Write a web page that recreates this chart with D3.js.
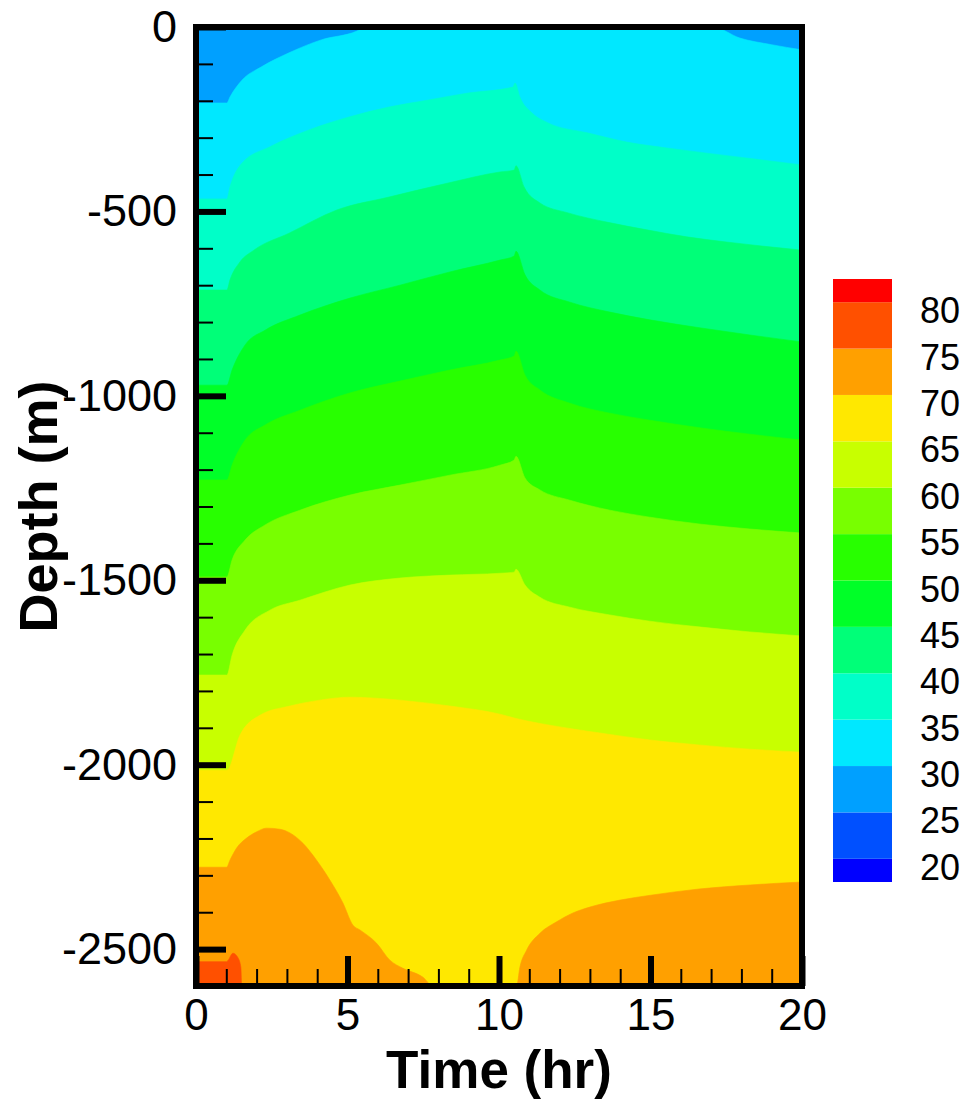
<!DOCTYPE html>
<html><head><meta charset="utf-8">
<script src="https://cdn.jsdelivr.net/npm/d3@7"></script>
<style>body{margin:0;background:#fff}</style>
</head><body>
<svg id="chart" width="970" height="1103"></svg>
<script>
// ---- data (time in hr, depth in m) ----
const legendLevels = [20,25,30,35,40,45,50,55,60,65,70,75,80];
const bandColors = ["#0000FF","#0050FF","#00A0FF","#00E8FF","#00FFC8","#00FF78","#00FF28",
                    "#28FF00","#78FF00","#C8FF00","#FFE800","#FFA000","#FF5000","#FF0000"];
const xTicks = [0,5,10,15,20];
const yTicks = [0,-500,-1000,-1500,-2000,-2500];
const xMinorTicks = d3.range(0,21,1);
const yMinorTicks = d3.range(0,-2601,-100);

// isotherm depth vs time; region below each isotherm has T >= level
const iso25 = [[0,0],[20,0]];
const iso30 = [[0,-206],[1.02,-206],[1.12,-190],[1.52,-144],[2.16,-108],[3.07,-70],[4.13,-35],[5.31,-11],[5.58,0],[17.05,0],[17.95,-30],[19,-48],[20,-62]];
const iso35 = [[0,-466],[1.02,-466],[1.12,-434],[1.52,-369],[2.43,-325],[3.73,-279],[5.05,-244],[6.37,-217],[7.67,-198],[8.98,-179],[10.46,-163],[10.53,-152],[10.69,-190],[11.09,-233],[11.62,-260],[12.92,-287],[14.22,-312],[15.54,-328],[16.86,-342],[18.15,-355],[20,-374]];
const iso40 = [[0,-713],[1.02,-713],[1.12,-686],[1.45,-637],[1.91,-605],[3.07,-559],[4.65,-496],[6.37,-461],[8.32,-423],[10.03,-393],[10.5,-388],[10.56,-376],[10.83,-434],[11.35,-477],[12.28,-504],[13.56,-529],[14.88,-550],[16.2,-569],[17.51,-583],[20,-605]];
const iso45 = [[0,-971],[1.02,-971],[1.19,-930],[1.62,-862],[2.28,-822],[3.43,-781],[5.08,-735],[6.73,-700],[8.38,-664],[10.03,-632],[10.5,-621],[10.56,-608],[10.86,-672],[11.35,-713],[12.34,-746],[13.66,-773],[14.98,-794],[16.67,-816],[18.28,-835],[20,-854]];
const iso50 = [[0,-1228],[1.02,-1228],[1.19,-1188],[1.62,-1120],[2.28,-1079],[3.43,-1039],[5.08,-992],[6.73,-960],[8.38,-930],[10.03,-903],[10.5,-892],[10.56,-879],[10.86,-944],[11.35,-984],[12.34,-1020],[13.66,-1047],[14.98,-1066],[16.67,-1087],[18.28,-1104],[20,-1120]];
const iso55 = [[0,-1491],[1.02,-1491],[1.19,-1445],[1.62,-1391],[2.28,-1350],[3.43,-1310],[5.08,-1269],[6.73,-1242],[8.38,-1215],[10.03,-1188],[10.5,-1174],[10.56,-1164],[10.86,-1223],[11.35,-1255],[12.34,-1283],[13.66,-1310],[14.98,-1329],[16.67,-1348],[18.28,-1361],[20,-1372]];
const iso60 = [[0,-1757],[1.02,-1757],[1.19,-1703],[1.62,-1635],[2.44,-1581],[3.43,-1554],[5.08,-1513],[6.73,-1494],[8.38,-1486],[10.03,-1481],[10.5,-1478],[10.56,-1470],[10.86,-1513],[11.35,-1546],[12.34,-1573],[13.66,-1594],[14.98,-1611],[16.67,-1627],[18.28,-1640],[20,-1651]];
const iso65 = [[0,-2015],[1.02,-2015],[1.45,-1920],[2.11,-1866],[3.1,-1841],[4.09,-1825],[5.08,-1817],[6.73,-1825],[8.38,-1841],[10.03,-1863],[10.53,-1874],[11.68,-1893],[13.33,-1914],[14.98,-1933],[16.67,-1947],[18.28,-1958],[20,-1966]];
const iso70 = [[0,-2278],[1.01,-2278],[1.12,-2259],[1.34,-2226],[1.67,-2199],[2.0,-2182],[2.33,-2172],[2.77,-2175],[3.1,-2185],[3.53,-2213],[3.98,-2259],[4.42,-2313],[4.85,-2375],[5.18,-2435],[5.41,-2448],[5.96,-2484],[6.4,-2530],[6.83,-2552],[7.49,-2576],[7.82,-2600],[10.58,-2600],[10.69,-2549],[10.91,-2503],[11.35,-2457],[11.9,-2426],[12.44,-2402],[13.0,-2386],[14.0,-2367],[15.0,-2354],[16.6,-2337],[18.3,-2326],[20,-2318]];
const iso75 = [[0,-2534],[1.01,-2534],[1.06,-2530],[1.22,-2511],[1.39,-2524],[1.48,-2549],[1.51,-2600],[20,-2600]];

const isoLevels = [25,30,35,40,45,50,55,60,65,70,75];
const isoLines = [iso25,iso30,iso35,iso40,iso45,iso50,iso55,iso60,iso65,iso70,iso75];

// ---- drawing ----
const svg = d3.select("#chart");
const x = d3.scaleLinear().domain([0,20]).range([196,802]);
const y = d3.scaleLinear().domain([0,-2600]).range([27,986]);

svg.append("defs").append("clipPath").attr("id","plotclip")
  .append("rect").attr("x",x(0)).attr("y",y(0)).attr("width",x(20)-x(0)).attr("height",y(-2600)-y(0));

const g = svg.append("g").attr("clip-path","url(#plotclip)");
const area = d3.area()
  .x(d => x(d[0]))
  .y0(y(-2600))
  .y1(d => y(d[1]))
  .curve(d3.curveMonotoneX);

isoLevels.forEach((L,i) => {
  const ci = (L-20)/5 + 1;
  g.append("path").datum(isoLines[i])
    .attr("d", area)
    .attr("fill", bandColors[ci])
    .attr("stroke", bandColors[ci]).attr("stroke-width",0.6);
});

// axes
const font = "'Liberation Sans', Arial, Helvetica, sans-serif";
const fmt = d => String(d);
const yMinor = svg.append("g").attr("transform",`translate(${x(0)},0)`)
  .call(d3.axisLeft(y).tickValues(yMinorTicks).tickSize(-17).tickFormat(""));
yMinor.selectAll("line").attr("stroke","#000").attr("stroke-width",2);
const yMajor = svg.append("g").attr("transform",`translate(${x(0)},0)`)
  .call(d3.axisLeft(y).tickValues(yTicks).tickSize(-30).tickPadding(19).tickFormat(fmt));
yMajor.selectAll("line").attr("stroke","#000").attr("stroke-width",6);
yMajor.selectAll("text").attr("font-family",font).attr("font-size",45).attr("fill","#000");

const xMinor = svg.append("g").attr("transform",`translate(0,${y(-2600)})`)
  .call(d3.axisBottom(x).tickValues(xMinorTicks).tickSize(-17).tickFormat(""));
xMinor.selectAll("line").attr("stroke","#000").attr("stroke-width",2);
const xMajor = svg.append("g").attr("transform",`translate(0,${y(-2600)})`)
  .call(d3.axisBottom(x).tickValues(xTicks).tickSize(-30).tickPadding(13).tickFormat(fmt));
xMajor.selectAll("line").attr("stroke","#000").attr("stroke-width",6);
xMajor.selectAll("text").attr("font-family",font).attr("font-size",44).attr("fill","#000");
svg.selectAll(".domain").remove();

// frame
svg.append("rect").attr("x",x(0)).attr("y",y(0)).attr("width",x(20)-x(0)).attr("height",y(-2600)-y(0))
  .attr("fill","none").attr("stroke","#000").attr("stroke-width",6);

// axis titles
svg.append("text").attr("x",(x(0)+x(20))/2).attr("y",1088).attr("text-anchor","middle")
  .attr("font-family",font).attr("font-weight","bold").attr("font-size",53).text("Time (hr)");
svg.append("text").attr("transform",`translate(57,${(y(0)+y(-2600))/2}) rotate(-90)`)
  .attr("text-anchor","middle").attr("font-family",font).attr("font-weight","bold").attr("font-size",54)
  .text("Depth (m)");

// colour legend
const cs = d3.scaleLinear().domain([17.5,82.5]).range([882,279]);
const leg = svg.append("g");
bandColors.forEach((c,i) => {
  const lo = Math.max(15+5*i, 17.5), hi = Math.min(20+5*i, 82.5);
  leg.append("rect").attr("x",833).attr("width",59)
    .attr("y",cs(hi)).attr("height",cs(lo)-cs(hi)).attr("fill",c);
});
leg.selectAll("text.lab").data(legendLevels).join("text").attr("class","lab")
  .attr("x",920).attr("y",d => cs(d)+21)
  .attr("font-family",font).attr("font-size",36).attr("fill","#000")
  .text(d => d);
</script>
</body></html>
